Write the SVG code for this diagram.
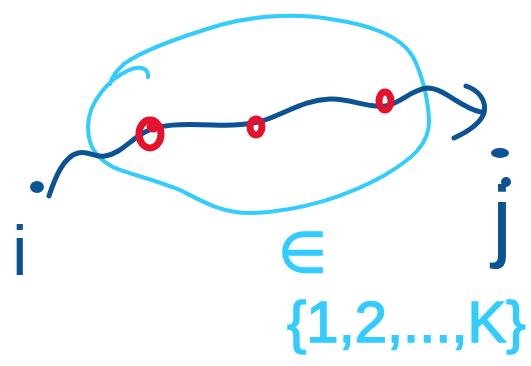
<svg xmlns="http://www.w3.org/2000/svg" width="531" height="366" viewBox="0 0 531 366">
<style>
.blue{fill:none;stroke:#0b5394;stroke-width:5;stroke-linecap:round;stroke-linejoin:round}
.cyan{fill:none;stroke:#33ccff;stroke-width:4;stroke-linecap:round;stroke-linejoin:round}
.red{fill:none;stroke:#e8112d;stroke-width:7;stroke-linecap:round}
.lbl{font-family:"Liberation Sans","DejaVu Sans",sans-serif;fill:#0b5394}
.set{fill:#33ccff;stroke:#33ccff;stroke-width:1.5}
</style>
<rect width="531" height="366" fill="#ffffff"/>
<g id="set-loop">
<path class="cyan" d="M148,77 C149,68 140,65 127,71 C112,78 88,100 88,127 C88,150 100,160 113,167 C125,173 150,178 180,190 C200,200 220,213 250,213 C300,212 350,195 385,175 C410,160 430,145 429,120 C428,95 420,70 413,57 C400,35 370,25 330,19 C300,14 260,14 220,25 C180,37 140,52 124,64 C116,71 112,76 110,84"/>
</g>
<g id="connectors">
<ellipse cx="37" cy="187" rx="7" ry="6" fill="#0b5394"/>
<path class="blue" d="M49,196 C55,178 63,157 78,153 C88,150 95,158 105,156 C120,154 130,140 145,132 C160,124 180,124 213,125 C235,126 250,125 265,120 C290,111 305,100 330,99 C350,98 365,108 385,106 C400,104 412,89 427,88 C445,88 460,108 481,112"/>
<path class="blue" d="M466,86 C478,90 487,100 484,113 C480,125 465,133 454,138"/>
</g>
<g id="points">
<ellipse class="red" cx="150" cy="134" rx="11" ry="14"/>
<ellipse class="red" cx="153" cy="127" rx="3" ry="2" stroke-width="3"/>
<ellipse class="red" cx="256" cy="127" rx="6" ry="8"/>
<ellipse class="red" cx="385" cy="101" rx="6" ry="9"/>
</g>
<g id="label-i">
<text class="lbl" x="12" y="275" font-size="70">i</text>
</g>
<g id="label-j">
<ellipse cx="500" cy="153" rx="9" ry="5" fill="#0b5394"/>
<ellipse cx="506" cy="182" rx="5" ry="5" fill="#0b5394"/>
<text class="lbl" x="492" y="250" font-size="90">j</text>
</g>
<g id="label-set">
<text class="set" x="278" y="272" font-size="56" font-family="'DejaVu Sans', sans-serif">∈</text>
<text class="set" x="287" y="342" font-size="58" font-family="'Liberation Sans', sans-serif">{1,2,...,K}</text>
</g>
</svg>
